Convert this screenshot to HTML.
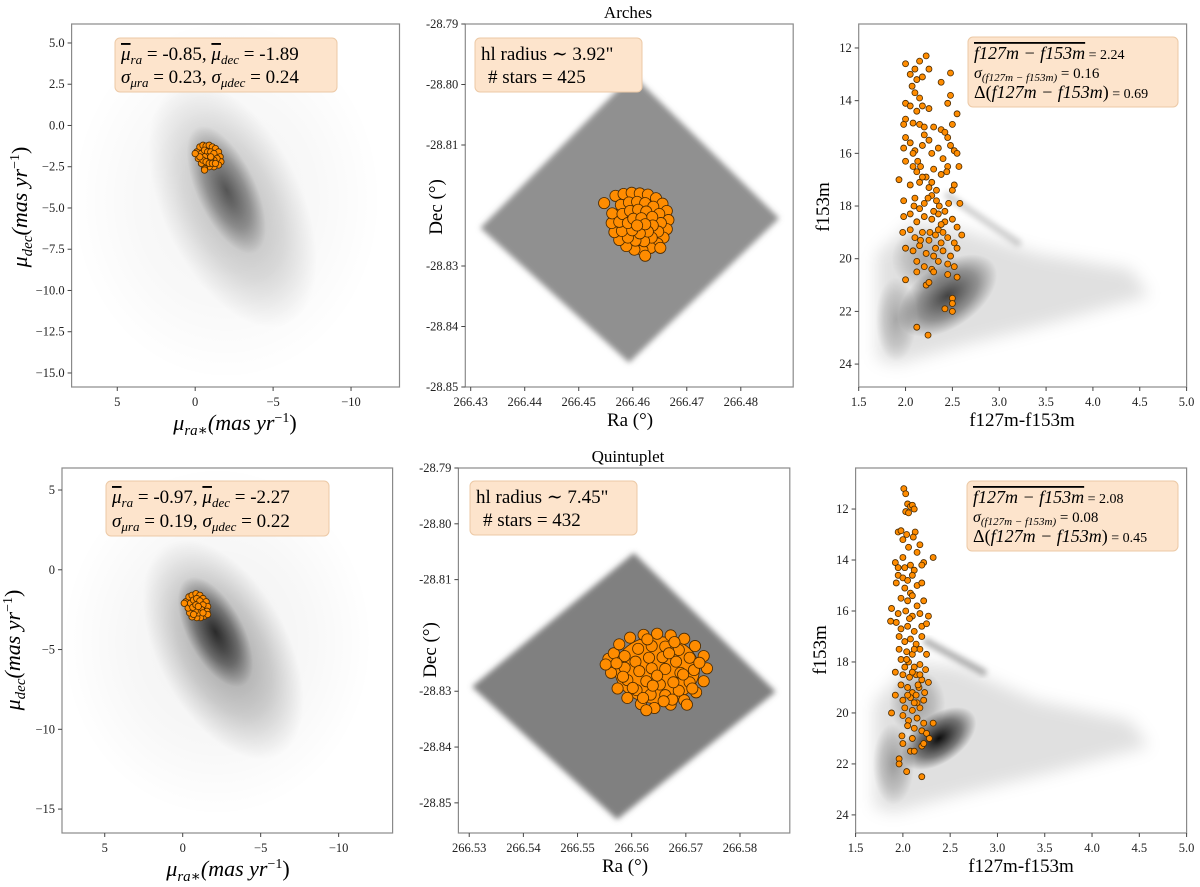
<!DOCTYPE html>
<html><head><meta charset="utf-8">
<style>
html,body{margin:0;padding:0;background:#fff;}
svg{display:block;font-family:"Liberation Serif","DejaVu Serif",serif;}
.tk{font-size:12.5px;fill:#222;}
.box{fill:#fde4cc;stroke:#ecc9a6;stroke-width:1;}
</style></head>
<body>
<svg id="fig" width="1200" height="887" viewBox="0 0 1200 887" xmlns="http://www.w3.org/2000/svg">
<defs>
<radialGradient id="cg"><stop offset="0" stop-color="#000" stop-opacity="1"/><stop offset="0.6" stop-color="#000" stop-opacity="0.5"/><stop offset="1" stop-color="#000" stop-opacity="0"/></radialGradient>
<filter id="bl3" x="-20%" y="-20%" width="140%" height="140%"><feGaussianBlur stdDeviation="3"/></filter>
<filter id="bl8" x="-30%" y="-30%" width="160%" height="160%"><feGaussianBlur stdDeviation="8"/></filter>
</defs>
<g id="marks"></g>

<text x="628" y="18" font-size="17" text-anchor="middle">Arches</text>
<text x="628" y="462" font-size="17" text-anchor="middle">Quintuplet</text>

<text transform="translate(27,207) rotate(-90)" font-size="22" text-anchor="middle"><tspan font-style="italic">μ</tspan><tspan font-style="italic" font-size="15" dy="5">dec</tspan><tspan dy="-5" font-style="italic">(mas yr</tspan><tspan font-size="14" dy="-8">−1</tspan><tspan dy="8">)</tspan></text>
<text x="235" y="430" font-size="22" text-anchor="middle"><tspan font-style="italic">μ</tspan><tspan font-style="italic" font-size="15" dy="5">ra∗</tspan><tspan dy="-5" font-style="italic">(mas yr</tspan><tspan font-size="14" dy="-8">−1</tspan><tspan dy="8">)</tspan></text>
<text transform="translate(442,207) rotate(-90)" font-size="19" text-anchor="middle">Dec (°)</text>
<text x="630" y="426" font-size="19" text-anchor="middle">Ra (°)</text>
<text transform="translate(829,207) rotate(-90)" font-size="19" text-anchor="middle">f153m</text>
<text x="1022" y="426" font-size="19" text-anchor="middle">f127m-f153m</text>

<text transform="translate(20,650) rotate(-90)" font-size="22" text-anchor="middle"><tspan font-style="italic">μ</tspan><tspan font-style="italic" font-size="15" dy="5">dec</tspan><tspan dy="-5" font-style="italic">(mas yr</tspan><tspan font-size="14" dy="-8">−1</tspan><tspan dy="8">)</tspan></text>
<text x="228" y="876" font-size="22" text-anchor="middle"><tspan font-style="italic">μ</tspan><tspan font-style="italic" font-size="15" dy="5">ra∗</tspan><tspan dy="-5" font-style="italic">(mas yr</tspan><tspan font-size="14" dy="-8">−1</tspan><tspan dy="8">)</tspan></text>
<text transform="translate(436,650) rotate(-90)" font-size="19" text-anchor="middle">Dec (°)</text>
<text x="625" y="872" font-size="19" text-anchor="middle">Ra (°)</text>
<text transform="translate(826,650) rotate(-90)" font-size="19" text-anchor="middle">f153m</text>
<text x="1021" y="872" font-size="19" text-anchor="middle">f127m-f153m</text>

<g>
<rect class="box" x="115" y="38" width="222" height="54" rx="5"/>
<text x="121" y="60" font-size="19"><tspan font-style="italic" text-decoration="overline">μ</tspan><tspan font-style="italic" font-size="13" dy="4">ra</tspan><tspan dy="-4"> = -0.85, </tspan><tspan font-style="italic" text-decoration="overline">μ</tspan><tspan font-style="italic" font-size="13" dy="4">dec</tspan><tspan dy="-4"> = -1.89</tspan></text>
<text x="121" y="83" font-size="19"><tspan font-style="italic">σ</tspan><tspan font-style="italic" font-size="13" dy="4">μra</tspan><tspan dy="-4"> = 0.23, </tspan><tspan font-style="italic">σ</tspan><tspan font-style="italic" font-size="13" dy="4">μdec</tspan><tspan dy="-4"> = 0.24</tspan></text>
</g>
<g>
<rect class="box" x="475" y="38" width="167" height="54" rx="5"/>
<text x="481" y="60" font-size="19">hl radius  ∼ 3.92"</text>
<text x="488" y="83" font-size="19"># stars = 425</text>
</g>
<g>
<rect class="box" x="968" y="37" width="210" height="70" rx="5"/>
<text x="974" y="59" font-size="18"><tspan font-style="italic" text-decoration="overline">f127m − f153m</tspan><tspan font-size="14"> = 2.24</tspan></text>
<text x="974" y="78" font-size="16"><tspan font-style="italic">σ</tspan><tspan font-style="italic" font-size="11" dy="3">(f127m − f153m)</tspan><tspan dy="-3" font-size="15"> = 0.16</tspan></text>
<text x="974" y="98" font-size="18">Δ(<tspan font-style="italic">f127m − f153m</tspan>)<tspan font-size="14"> = 0.69</tspan></text>
</g>

<g>
<rect class="box" x="106" y="481" width="223" height="55" rx="5"/>
<text x="112" y="503" font-size="19"><tspan font-style="italic" text-decoration="overline">μ</tspan><tspan font-style="italic" font-size="13" dy="4">ra</tspan><tspan dy="-4"> = -0.97, </tspan><tspan font-style="italic" text-decoration="overline">μ</tspan><tspan font-style="italic" font-size="13" dy="4">dec</tspan><tspan dy="-4"> = -2.27</tspan></text>
<text x="112" y="527" font-size="19"><tspan font-style="italic">σ</tspan><tspan font-style="italic" font-size="13" dy="4">μra</tspan><tspan dy="-4"> = 0.19, </tspan><tspan font-style="italic">σ</tspan><tspan font-style="italic" font-size="13" dy="4">μdec</tspan><tspan dy="-4"> = 0.22</tspan></text>
</g>
<g>
<rect class="box" x="470" y="481" width="167" height="54" rx="5"/>
<text x="476" y="503" font-size="19">hl radius  ∼ 7.45"</text>
<text x="483" y="526" font-size="19"># stars = 432</text>
</g>
<g>
<rect class="box" x="967" y="481" width="211" height="70" rx="5"/>
<text x="973" y="503" font-size="18"><tspan font-style="italic" text-decoration="overline">f127m − f153m</tspan><tspan font-size="14"> = 2.08</tspan></text>
<text x="973" y="522" font-size="16"><tspan font-style="italic">σ</tspan><tspan font-style="italic" font-size="11" dy="3">(f127m − f153m)</tspan><tspan dy="-3" font-size="15"> = 0.08</tspan></text>
<text x="973" y="542" font-size="18">Δ(<tspan font-style="italic">f127m − f153m</tspan>)<tspan font-size="14"> = 0.45</tspan></text>
</g>
</svg>

<script>
// ---------- data ----------
const archesPm = [[-0.1,-1.6],[-0.3,-1.3],[-0.5,-1.2],[-0.7,-1.25],[-0.9,-1.2],[-1.1,-1.3],[-1.3,-1.4],[-1.5,-1.6],[-1.6,-1.9],[-1.65,-2.2],[-1.5,-2.4],[-1.2,-2.5],[-0.9,-2.5],[-0.6,-2.6],[-0.4,-2.3],[-0.2,-2.0],[-0.4,-1.7],[-0.6,-1.5],[-0.8,-1.6],[-1.0,-1.6],[-1.2,-1.7],[-1.4,-2.0],[-1.2,-2.1],[-1.0,-2.0],[-0.8,-1.9],[-0.6,-1.9],[-0.5,-2.1],[-0.7,-2.2],[-0.9,-2.3],[-1.1,-2.3],[-1.3,-2.3],[-0.3,-1.9],[-0.6,-2.7],[-1.0,-1.9],[0.0,-1.7]];
const quintPm = [[-0.2,-2.0],[-0.4,-1.7],[-0.6,-1.6],[-0.85,-1.5],[-1.1,-1.6],[-1.3,-1.8],[-1.5,-2.0],[-1.6,-2.3],[-1.55,-2.6],[-1.4,-2.9],[-1.15,-3.0],[-0.9,-3.0],[-0.6,-2.95],[-0.45,-2.7],[-0.35,-2.4],[-0.5,-2.1],[-0.7,-1.9],[-0.9,-1.8],[-1.1,-1.95],[-1.3,-2.2],[-1.2,-2.5],[-1.0,-2.7],[-0.8,-2.6],[-0.65,-2.35],[-0.85,-2.2],[-1.0,-2.3],[-0.1,-2.1],[-1.6,-2.8],[-0.7,-2.8],[-1.3,-2.7]];
const archesPmCloud = [[-2.0,-4.5,10,11,0,0.05],[-2.4,-4.8,4.5,8,-25,0.25],[-2.0,-3.9,1.9,4.2,-25,0.55]];
const quintPmCloud = [[-2.2,-4.5,10,11,0,0.06],[-2.6,-5.0,4.2,7.5,-28,0.35],[-2.1,-3.9,1.8,3.8,-28,0.75]];

const archesFov = [[266.4600,-28.7984],[266.4871,-28.8221],[266.4593,-28.8460],[266.4318,-28.8237]];
const quintFov = [[266.5604,-28.8052],[266.5866,-28.8301],[266.5573,-28.8530],[266.5305,-28.8292]];
const archesCenter = [266.4613, -28.8227];
const quintCenter = [266.5647, -28.8262];
// cluster core extent [ra half-width, dec half-width] in degrees
const archesCore = [0.0048, 0.0043];
const quintCore = [0.0078, 0.0060];
// member offsets in milli-degrees
const archesMembers = [[-6.6,3.1],[-4.5,4.3],[-3.0,4.6],[-1.5,4.8],[0,4.7],[1.5,4.5],[3.0,3.9],[4.2,3.0],[5.0,1.8],[5.3,0.3],[5.0,-1.2],[4.4,-2.6],[3.3,-3.6],[2.0,-4.3],[0.5,-4.7],[-1.0,-4.6],[-2.5,-4.0],[-3.8,-3.0],[-4.7,-1.7],[-5.2,-0.2],[-5.1,1.4],[-3.5,2.8],[-2.0,3.2],[-0.5,3.3],[1.0,3.1],[2.5,2.5],[3.6,1.3],[3.9,-0.2],[3.4,-1.6],[2.2,-2.6],[0.8,-3.2],[-0.8,-3.1],[-2.2,-2.6],[-3.3,-1.5],[-3.8,0],[-3.2,1.3],[-1.8,1.8],[-0.3,2.0],[1.2,1.7],[2.3,0.8],[2.4,-0.6],[1.5,-1.6],[0,-1.9],[-1.4,-1.4],[-2.2,-0.2],[-1.2,0.5],[0.3,0.6],[1.0,-0.4],[-0.5,-0.6],[3.8,-4.3],[1.0,-5.6]];
const quintMembers = [[-9,2],[-8.5,-0.5],[-8,3],[-7,4.6],[-5,5.8],[-2.5,6.3],[0,6.5],[2.5,6.2],[5,5.6],[7,4.3],[8.6,2.5],[9.2,0.3],[8.6,-2],[7.2,-4],[5,-5.4],[2.5,-6.2],[-0.5,-6.8],[-3,-6.1],[-5.5,-5],[-7.3,-3.3],[-6,2.5],[-3.5,3.8],[-1,4.3],[1.5,4.2],[4,3.6],[6,2.2],[6.8,0],[6,-2.2],[4,-3.7],[1.5,-4.5],[-1.2,-4.4],[-3.8,-3.6],[-5.5,-1.8],[-6,0.4],[-4,1.5],[-1.5,2.2],[1,2.3],[3.5,1.5],[4.3,-0.5],[3,-2.2],[0.5,-2.6],[-2,-2],[-3.3,-0.2],[-1,0.3],[1.5,0.2],[0,-1],[5.5,-6.2],[-2,-7.2],[-9.5,1],[-7.5,1.2],[-4.5,-3.2],[2.8,-5.3],[6.5,-3.3],[7.8,1.3],[3.2,5.0],[-1.8,5.5],[-6.3,-1.2],[-2.6,-5.0],[1.2,-5.6],[4.8,-0.8],[-0.8,-2.8],[2.2,3.0]];

const archesCmd = [[2.00,12.6],[2.1,12.8],[2.15,12.5],[2.22,12.3],[2.25,12.8],[2.48,12.95],[2.05,13.0],[2.12,13.2],[2.18,13.1],[2.07,13.45],[2.38,13.3],[2.1,13.7],[2.15,13.9],[2.48,13.8],[2.45,14.1],[2.0,14.1],[2.05,14.2],[2.12,14.4],[2.18,14.2],[2.25,14.3],[2.55,14.5],[2.0,14.7],[1.98,14.9],[2.08,14.85],[2.15,14.9],[2.2,15.0],[2.3,15.0],[2.38,15.1],[2.45,15.4],[2.5,14.9],[2.42,15.2],[2.0,15.4],[2.05,15.6],[1.98,15.8],[2.1,15.9],[2.18,15.7],[2.25,15.5],[2.28,16.0],[2.35,15.8],[2.4,16.2],[2.48,15.7],[2.52,15.9],[2.55,16.0],[2.45,16.5],[2.0,16.3],[2.08,16.5],[2.12,16.7],[2.16,16.5],[2.22,16.9],[2.3,16.6],[2.38,16.8],[2.44,16.7],[1.93,17.0],[2.05,17.2],[2.15,17.1],[2.25,17.3],[2.33,17.4],[2.5,17.4],[2.57,16.5],[1.98,17.8],[2.1,17.7],[2.2,17.9],[2.28,17.6],[2.36,18.0],[2.46,17.9],[2.58,17.9],[2.52,17.2],[1.98,18.4],[2.05,18.3],[2.12,18.6],[2.2,18.4],[2.28,18.5],[2.35,18.3],[2.42,18.6],[2.5,18.5],[2.55,18.8],[1.97,19.0],[2.05,18.9],[2.1,19.2],[2.18,19.0],[2.25,19.3],[2.32,19.1],[2.38,19.4],[2.45,19.2],[2.52,19.4],[2.6,19.1],[2.0,19.6],[2.08,19.7],[2.15,19.5],[2.22,19.8],[2.3,19.9],[2.4,19.7],[2.48,19.9],[2.55,19.6],[2.12,20.1],[2.2,20.3],[2.28,20.4],[2.35,20.1],[2.45,20.2],[2.52,20.3],[2.0,20.8],[2.12,20.5],[2.22,21.0],[2.25,20.9],[2.55,20.7],[2.5,21.5],[2.5,21.7],[2.42,21.9],[2.5,22.0],[2.12,22.6],[2.24,22.9],[2.3,20.5],[2.45,20.6],[2.35,18.9],[2.15,18.1],[2.28,17.1],[2.08,16.0],[2.2,15.3],[2.32,19.6],[2.42,18.2],[2.13,16.3],[2.18,16.9],[2.24,17.7],[2.3,18.2],[2.38,18.7],[2.26,19.0],[2.4,19.0],[2.16,19.3],[2.33,17.8],[2.09,18.0]];
const quintCmd = [[2.01,11.2],[2.03,11.4],[2.05,11.8],[2.08,11.9],[2.1,11.85],[2.03,12.1],[2.06,12.15],[2.12,12.0],[1.95,12.9],[1.98,12.85],[2.04,13.0],[2.13,12.9],[2.11,13.1],[2.0,13.2],[2.06,13.5],[2.18,13.4],[2.15,13.7],[2.32,13.9],[2.0,13.9],[2.22,14.1],[1.92,14.1],[1.95,14.3],[2.02,14.3],[2.08,14.2],[2.12,14.4],[2.2,14.2],[1.95,14.6],[2.0,14.7],[2.05,14.8],[2.1,14.6],[1.93,14.9],[2.02,15.1],[2.08,15.3],[2.15,15.0],[2.2,14.9],[1.98,15.5],[2.05,15.6],[2.1,15.4],[2.15,15.8],[2.22,15.6],[1.88,15.9],[1.95,16.1],[2.03,16.0],[2.1,16.2],[2.18,16.1],[2.27,16.2],[1.87,16.4],[1.93,16.45],[1.98,16.7],[2.05,16.6],[2.12,16.8],[2.2,16.6],[2.25,16.5],[1.96,17.0],[2.02,17.2],[2.08,17.1],[2.14,17.3],[2.2,17.0],[1.96,17.5],[2.04,17.6],[2.1,17.7],[2.18,17.5],[2.25,17.7],[1.98,17.9],[2.06,18.0],[2.12,18.2],[2.18,18.1],[2.24,18.3],[1.92,18.4],[2.0,18.5],[2.07,18.6],[2.14,18.5],[2.2,18.7],[2.27,18.8],[1.98,18.9],[2.05,19.0],[2.1,19.2],[2.17,19.0],[2.23,19.2],[1.92,19.3],[2.0,19.5],[2.08,19.4],[2.15,19.6],[2.22,19.5],[2.02,19.8],[2.1,19.9],[2.18,19.8],[1.88,20.0],[2.0,20.1],[2.06,20.3],[2.15,20.2],[2.22,20.4],[2.32,20.4],[2.05,20.5],[2.12,20.6],[2.2,20.7],[2.25,20.8],[1.99,20.9],[2.1,21.0],[2.28,21.0],[2.0,21.2],[2.2,21.3],[2.22,21.2],[2.08,21.5],[2.12,21.5],[1.96,21.8],[1.96,22.0],[2.04,22.3],[2.2,22.5],[2.04,17.9],[2.1,18.4],[2.16,18.9],[2.05,19.3],[2.12,19.6],[2.07,16.3],[2.12,17.5],[2.18,18.5],[2.02,18.2],[2.14,19.3]];
const archesField = [[1.7,19.8],[2.1,18.6],[2.6,18.9],[3.4,19.8],[4.4,20.4],[4.6,21.4],[3.6,22.4],[2.6,23.3],[1.9,24.0],[1.7,23.8]];
const quintField = [[1.7,19.6],[2.1,18.0],[2.6,18.2],[3.4,19.5],[4.4,20.3],[4.6,21.3],[3.6,22.3],[2.6,23.2],[1.9,23.9],[1.7,23.7]];
const archesFieldCore = [[2.45,21.4,0.6,1.2,-35,0.7],[1.9,22.3,0.22,1.6,0,0.25],[2.2,20.0,0.35,1.2,0,0.25]];
const quintFieldCore = [[2.38,21.0,0.45,0.95,-35,0.95],[1.9,22.0,0.22,1.6,0,0.3],[2.15,19.6,0.3,1.3,0,0.3]];
const archesStreak = [[2.45,17.6],[3.2,19.4]];
const quintStreak = [[2.25,17.2],[2.85,18.4]];

const pmTicksTop = [5.0,2.5,0.0,-2.5,-5.0,-7.5,-10.0,-12.5,-15.0];
const pmTicksBot = [5,0,-5,-10,-15];
const pmXTicks = [5,0,-5,-10];
const raTicksTop = [266.43,266.44,266.45,266.46,266.47,266.48];
const raTicksBot = [266.53,266.54,266.55,266.56,266.57,266.58];
const decTicks = [-28.79,-28.80,-28.81,-28.82,-28.83,-28.84,-28.85];
const decLabels = ["-28.79","-28.80","-28.81","","-28.83","-28.84","-28.85"];
const colTicks = [1.5,2.0,2.5,3.0,3.5,4.0,4.5,5.0];
const magTicks = [12,14,16,18,20,22,24];

// ---------- drawing ----------
const NS = "http://www.w3.org/2000/svg";
const root = document.getElementById('marks');
function mk(tag, attrs, parent){ const e=document.createElementNS(NS,tag); for(const k in attrs) e.setAttribute(k,attrs[k]); (parent||root).appendChild(e); return e; }
function lin(d0,d1,r0,r1){ return v => r0+(v-d0)/(d1-d0)*(r1-r0); }
function fmtMinus(v,dec){ const s=v.toFixed(dec); return s.replace('-','−'); }

function panel(id, box, xd, yd){
  const p = {x: lin(xd[0],xd[1],box[0],box[2]), y: lin(yd[0],yd[1],box[1],box[3]), box};
  const cp = mk('clipPath',{id:'clip-'+id}, document.querySelector('defs'));
  mk('rect',{x:box[0],y:box[1],width:box[2]-box[0],height:box[3]-box[1]},cp);
  p.g = mk('g',{'clip-path':'url(#clip-'+id+')'});
  
  
  p.sx = Math.abs((box[2]-box[0])/(xd[1]-xd[0]));
  p.sy = Math.abs((box[3]-box[1])/(yd[1]-yd[0]));
  return p;
}
function frame(p, id){
  const b=p.box;
  const r = mk('rect',{x:b[0],y:b[1],width:b[2]-b[0],height:b[3]-b[1],fill:'none',stroke:'#8a8a8a','stroke-width':1.2});
  
  
}
function xTicks(p, ticks, labels, id){
  const g = mk('g',{});
  
  
  ticks.forEach((t,i)=>{
    const x=p.x(t);
    mk('line',{x1:x,x2:x,y1:p.box[3],y2:p.box[3]+4,stroke:'#444','stroke-width':1},g);
    const tx = mk('text',{x:x,y:p.box[3]+19,'text-anchor':'middle',class:'tk'},g);
    tx.textContent = labels[i];
  });
}
function yTicks(p, ticks, labels, id){
  const g = mk('g',{});
  
  
  ticks.forEach((t,i)=>{
    if(labels[i]==='') return;
    const y=p.y(t);
    mk('line',{x1:p.box[0]-4,x2:p.box[0],y1:y,y2:y,stroke:'#444','stroke-width':1},g);
    const tx = mk('text',{x:p.box[0]-7,y:y+4,'text-anchor':'end',class:'tk'},g);
    tx.textContent = labels[i];
  });
}
function clouds(p, list, name){
  list.forEach((c,i)=>{
    const cx=p.x(c[0]), cy=p.y(c[1]);
    const e = mk('ellipse',{cx:cx,cy:cy,rx:c[2]*p.sx,ry:c[3]*p.sy,fill:'url(#cg)','fill-opacity':c[5],transform:`rotate(${c[4]} ${cx} ${cy})`},p.g);
    
    
  });
}
function dots(p, list, r, name, ox, oy, scale){
  list.forEach(d=>{
    const vx = ox===undefined ? d[0] : ox + d[0]*scale;
    const vy = oy===undefined ? d[1] : oy + d[1]*scale;
    const c = mk('circle',{cx:p.x(vx),cy:p.y(vy),r:r,fill:'#ff8c00',stroke:'#4a2a00','stroke-width':0.8},p.g);
    
    
  });
}
function core(p, center, ext, name){
  const e = mk('ellipse',{cx:p.x(center[0]),cy:p.y(center[1]),rx:ext[0]*p.sx,ry:ext[1]*p.sy,fill:'#ff8c00',stroke:'#4a2a00','stroke-width':0.8},p.g);
  
  
}
function poly(p, pts, attrs, name){
  const e = mk('polygon',Object.assign({points:pts.map(q=>p.x(q[0])+','+p.y(q[1])).join(' ')},attrs),p.g);
  
  
  return e;
}
function streak(p, s, op, name){
  const e = mk('line',{x1:p.x(s[0][0]),y1:p.y(s[0][1]),x2:p.x(s[1][0]),y2:p.y(s[1][1]),stroke:'#000','stroke-width':7,'stroke-linecap':'round','stroke-opacity':op,filter:'url(#bl3)'},p.g);
  
  
}

const pmTopLabels = pmTicksTop.map(v=>fmtMinus(v,1));
const pmBotLabels = pmTicksBot.map(v=>fmtMinus(v,0));
const pmXLabels = pmXTicks.map(v=>fmtMinus(v,0));
const raTopLabels = raTicksTop.map(v=>v.toFixed(2));
const raBotLabels = raTicksBot.map(v=>v.toFixed(2));
const colLabels = colTicks.map(v=>v.toFixed(1));
const magLabels = magTicks.map(v=>String(v));

let A1 = panel('arches-pm',[71.6,24,399.5,387],[7.93,-13.11],[6.15,-15.85]);
clouds(A1, archesPmCloud, 'arches-field-pm');
dots(A1, archesPm, 3.2, 'arches-member-pm');
frame(A1,'arches-pm'); xTicks(A1,pmXTicks,pmXLabels,'arches-pm'); yTicks(A1,pmTicksTop,pmTopLabels,'arches-pm');

let A2 = panel('arches-sky',[465.3,24,793.2,387],[266.429,266.4897],[-28.79,-28.85]);
poly(A2, archesFov, {fill:'#7c7c7c','fill-opacity':0.85,filter:'url(#bl3)'}, 'arches-field-footprint');
core(A2, archesCenter, archesCore, 'arches-member-core');
dots(A2, archesMembers, 5.6, 'arches-member-sky', archesCenter[0], archesCenter[1], 0.001);
frame(A2,'arches-sky'); xTicks(A2,raTicksTop,raTopLabels,'arches-sky'); yTicks(A2,decTicks,decLabels,'arches-sky');

let A3 = panel('arches-cmd',[858.7,24,1186.6,387],[1.5,5.0],[11.09,24.87]);
poly(A3, archesField, {fill:'#000','fill-opacity':0.12,filter:'url(#bl8)'}, 'arches-field-cmd');
clouds(A3, archesFieldCore, 'arches-field-cmd-core');
streak(A3, archesStreak, 0.18, 'arches-red-clump');
dots(A3, archesCmd, 3.0, 'arches-member-cmd');
frame(A3,'arches-cmd'); xTicks(A3,colTicks,colLabels,'arches-cmd'); yTicks(A3,magTicks,magLabels,'arches-cmd');

let Q1 = panel('quint-pm',[62,468,392.6,833],[7.74,-13.46],[6.38,-16.5]);
clouds(Q1, quintPmCloud, 'quint-field-pm');
dots(Q1, quintPm, 3.2, 'quint-member-pm');
frame(Q1,'quint-pm'); xTicks(Q1,pmXTicks,pmXLabels,'quint-pm'); yTicks(Q1,pmTicksBot,pmBotLabels,'quint-pm');

let Q2 = panel('quint-sky',[458.4,468,789.8,833],[266.528,266.5892],[-28.79,-28.8554]);
poly(Q2, quintFov, {fill:'#6a6a6a','fill-opacity':0.85,filter:'url(#bl3)'}, 'quint-field-footprint');
core(Q2, quintCenter, quintCore, 'quint-member-core');
dots(Q2, quintMembers, 5.6, 'quint-member-sky', quintCenter[0], quintCenter[1], 0.001);
frame(Q2,'quint-sky'); xTicks(Q2,raTicksBot,raBotLabels,'quint-sky'); yTicks(Q2,decTicks,decLabels,'quint-sky');

let Q3 = panel('quint-cmd',[855.6,468,1186.6,833],[1.5,5.0],[10.39,24.71]);
poly(Q3, quintField, {fill:'#000','fill-opacity':0.12,filter:'url(#bl8)'}, 'quint-field-cmd');
clouds(Q3, quintFieldCore, 'quint-field-cmd-core');
streak(Q3, quintStreak, 0.3, 'quint-red-clump');
dots(Q3, quintCmd, 3.0, 'quint-member-cmd');
frame(Q3,'quint-cmd'); xTicks(Q3,colTicks,colLabels,'quint-cmd'); yTicks(Q3,magTicks,magLabels,'quint-cmd');
</script>
</body></html>
